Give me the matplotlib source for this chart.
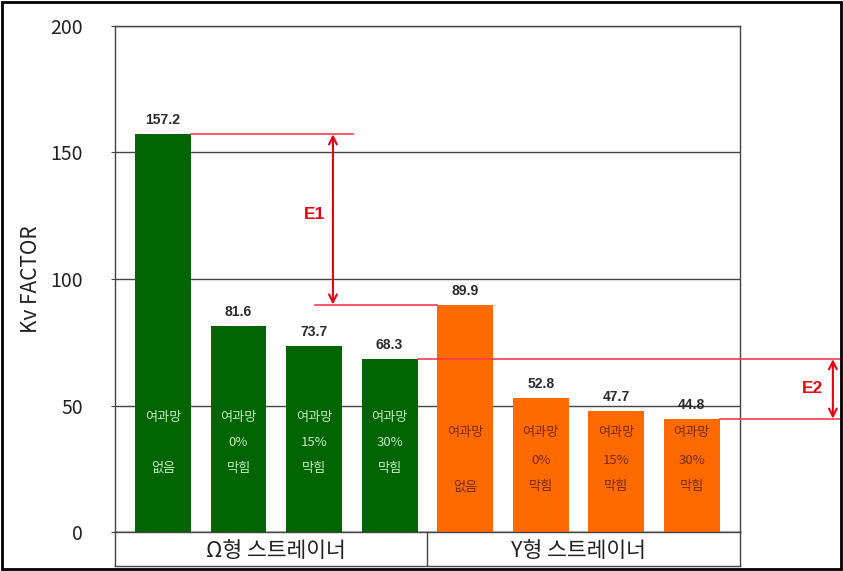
import matplotlib
matplotlib.use("Agg")
import matplotlib.pyplot as plt
from matplotlib.patches import Rectangle

plt.rcParams['font.family'] = ['Noto Sans CJK KR', 'DejaVu Sans']

# Data
groups = ["Ω형 스트레이너", "Y형 스트레이너"]
conditions = [["여과망", "없음"], ["여과망", "0%", "막힘"],
              ["여과망", "15%", "막힘"], ["여과망", "30%", "막힘"]]
omega_values = [157.2, 81.6, 73.7, 68.3]
y_values = [89.9, 52.8, 47.7, 44.8]
yticks = [0, 50, 100, 150, 200]
y_label = "Kv FACTOR"

green = "#006400"
orange = "#ff6a00"
red_line = "#ff3b4f"
red_arrow = "#e60012"

fig = plt.figure(figsize=(8.43, 5.71), dpi=100)
W, H = 843, 571

def fig_rect(x0, y0, x1, y1):
    return [x0 / W, 1 - y1 / H, (x1 - x0) / W, (y1 - y0) / H]

ax = fig.add_axes(fig_rect(115, 26, 740, 532))
ax.set_xlim(-0.636, 7.64)
ax.set_ylim(0, 200)

values = omega_values + y_values
colors = [green] * len(omega_values) + [orange] * len(y_values)
xs = list(range(len(values)))
bar_w = 0.74
bars = ax.bar(xs, values, width=bar_w, color=colors, zorder=3)

for b, v in zip(bars, values):
    ax.annotate(f"{v:.1f}", (b.get_x() + b.get_width() / 2, v),
                xytext=(0, 5), textcoords="offset points",
                ha="center", va="bottom", fontsize=10, color="#2a2a2a",
                fontweight="bold", family=["Liberation Sans"])

# condition text inside the bars
green_rows = [45.1, 35.2, 25.0]
orange_rows = [39.2, 28.1, 17.8]
for i, x in enumerate(xs):
    rows = green_rows if i < 4 else orange_rows
    tcol = "#c4ecc4" if i < 4 else "#7a2a00"
    lines = conditions[i % 4]
    if len(lines) == 2:
        pos = [rows[0], rows[2]]
    else:
        pos = rows
    for txt, yy in zip(lines, pos):
        ax.text(x, yy, txt, ha="center", va="center", fontsize=9.5, color=tcol, zorder=4)

ax.set_yticks(yticks)
ax.set_yticklabels([str(t) for t in yticks], fontsize=14, color="#222222")
ax.tick_params(axis="y", length=3, pad=20, color="#444444")
ax.set_xticks([])
ax.yaxis.grid(True, color="#444444", linewidth=1.0, zorder=1)
for s in ax.spines.values():
    s.set_color("#444444")
    s.set_linewidth(1.0)
ax.set_ylabel(y_label, fontsize=15, color="#222222", labelpad=6)

# E1 difference marker
e1_top, e1_bot = omega_values[0], y_values[0]
ax.plot([0 + bar_w / 2, 2.52], [e1_top, e1_top], color=red_line, lw=1.2, clip_on=False, zorder=5)
ax.plot([2.01, 4 - bar_w / 2], [e1_bot, e1_bot], color=red_line, lw=1.2, clip_on=False, zorder=5)
ax.annotate("", xy=(2.25, e1_top), xytext=(2.25, e1_bot),
            arrowprops=dict(arrowstyle="<->", color=red_arrow, lw=1.5,
                            shrinkA=0, shrinkB=0, mutation_scale=14), zorder=6)
ax.text(2.0, (e1_top + e1_bot) / 2 + 2, "E1", color=red_arrow, fontsize=12.5,
        fontweight="bold", ha="center", va="center", family=["Liberation Sans"])

# E2 difference marker
e2_top, e2_bot = omega_values[3], y_values[3]
ax.plot([3 + bar_w / 2, 9.0], [e2_top, e2_top], color=red_line, lw=1.2, clip_on=False, zorder=5)
ax.plot([7 + bar_w / 2, 9.0], [e2_bot, e2_bot], color=red_line, lw=1.2, clip_on=False, zorder=5)
ax.annotate("", xy=(8.87, e2_top), xytext=(8.87, e2_bot),
            arrowprops=dict(arrowstyle="<->", color=red_arrow, lw=1.5,
                            shrinkA=0, shrinkB=0, mutation_scale=14),
            annotation_clip=False, zorder=6)
ax.text(8.6, (e2_top + e2_bot) / 2, "E2", color=red_arrow, fontsize=12.5,
        fontweight="bold", ha="center", va="center", family=["Liberation Sans"],
        clip_on=False)

# group row below the plot
cax = fig.add_axes(fig_rect(115, 532, 740, 566))
cax.set_xlim(ax.get_xlim())
cax.set_ylim(0, 1)
cax.set_xticks([])
cax.set_yticks([])
for s in cax.spines.values():
    s.set_color("#444444")
    s.set_linewidth(1.0)
cax.axvline(3.5, color="#444444", lw=1.0)
cax.text(1.5, 0.45, groups[0], ha="center", va="center", fontsize=15.5, color="#222222")
cax.text(5.5, 0.45, groups[1], ha="center", va="center", fontsize=15.5, color="#222222")

# outer frame
fig.patches.append(Rectangle((0.002, 0.003), 0.996, 0.994, transform=fig.transFigure,
                             fill=False, edgecolor="black", linewidth=2.0))

fig.savefig("out.png", dpi=100)
